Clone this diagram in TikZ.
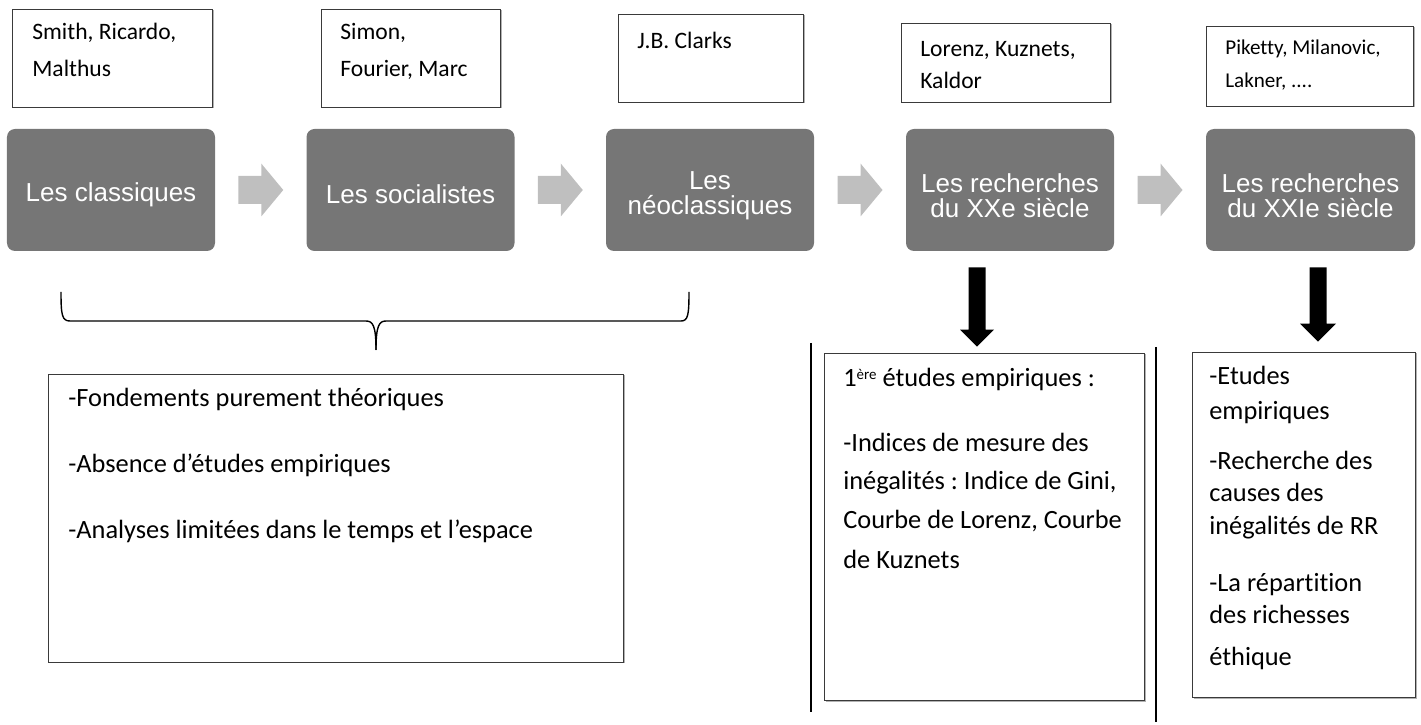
\documentclass[tikz,border=0pt]{standalone}
\usepackage{fontspec}
\setmainfont{Carlito}[Ligatures=NoCommon]
\newfontfamily\arialf{Liberation Sans}
\usetikzlibrary{calc,shadows}
\definecolor{boxgray}{HTML}{767676}
\definecolor{arrgray}{HTML}{BFBFBF}
\definecolor{edgec}{HTML}{3A3A3A}
\frenchspacing
\tikzset{
  stage/.style={rounded corners=0.16cm, fill=boxgray,
    minimum width=4.16cm, minimum height=2.44cm, inner sep=0pt},
  stagetext/.style={text=white, font=\arialf\fontsize{14.8}{14.4}\selectfont,
    align=center, inner sep=0pt},
  framebox/.style={draw=edgec, line width=0.55pt, fill=white,
    drop shadow={shadow xshift=0.03cm, shadow yshift=-0.03cm, fill=black!30, opacity=1},
    inner sep=0pt},
  atext/.style={anchor=base west, inner sep=0pt, font=\fontsize{13.4}{16}\selectfont},
  asmall/.style={anchor=base west, inner sep=0pt, font=\fontsize{12}{14}\selectfont},
  btext/.style={anchor=base west, inner sep=0pt, font=\fontsize{15}{18}\selectfont},
  pics/barrow/.style={code={\fill[arrgray] (-0.45,0.28) -- (0.01,0.28) -- (0.01,0.53) -- (0.45,0) -- (0.01,-0.53) -- (0.01,-0.28) -- (-0.45,-0.28) -- cycle;}},
  rule/.style={line width=0.8pt, draw=black}
}
\begin{document}
\begin{tikzpicture}
\useasboundingbox (0,0) rectangle (28.42,-14.5);

% author boxes
\node[framebox, minimum width=4.00cm, minimum height=1.96cm] (a1) at (2.24,-1.16) {};
\node[framebox, minimum width=3.58cm, minimum height=1.96cm] (a2) at (8.21,-1.16) {};
\node[framebox, minimum width=3.70cm, minimum height=1.76cm] (a3) at (14.21,-1.16) {};
\node[framebox, minimum width=4.18cm, minimum height=1.58cm] (a4) at (20.11,-1.25) {};
\node[framebox, minimum width=4.14cm, minimum height=1.60cm] (a5) at (26.19,-1.32) {};

\node[atext] (a1t1) at (0.64,-0.80) {Smith, Ricardo,};
\node[atext] (a1t2) at (0.64,-1.54) {Malthus};
\node[atext] (a2t1) at (6.80,-0.80) {Simon,};
\node[atext] (a2t2) at (6.80,-1.54) {Fourier, Marc};
\node[atext] (a3t1) at (12.74,-0.98) {J.B. Clarks};
\node[atext] (a4t1) at (18.40,-1.14) {Lorenz, Kuznets,};
\node[atext] (a4t2) at (18.40,-1.78) {Kaldor};
\node[asmall] (a5t1) at (24.50,-1.10) {Piketty, Milanovic,};
\node[asmall] (a5t2) at (24.50,-1.76) {Lakner, ....};

% stage boxes
\node[stage] (g1) at (2.22,-3.80) {};
\node[stage] (g2) at (8.21,-3.80) {};
\node[stage] (g3) at (14.20,-3.80) {};
\node[stage] (g4) at (20.20,-3.80) {};
\node[stage, minimum width=4.18cm] (g5) at (26.21,-3.80) {};
\node[stagetext] (g1t) at ($(g1.center)+(0,-0.09)$) {Les classiques};
\node[stagetext] (g2t) at ($(g2.center)+(0,-0.09)$) {Les socialistes};
\node[stagetext] (g3t) at ($(g3.center)+(0,-0.12)$) {Les\\n\'eoclassiques};
\node[stagetext] (g4t) at ($(g4.center)+(0,-0.12)$) {Les recherches\\du XXe si\`ecle};
\node[stagetext] (g5t) at ($(g5.center)+(0,-0.12)$) {Les recherches\\du XXIe si\`ecle};

% block arrows between stages
\pic at ($(g1.east)!0.5!(g2.west)$) {barrow};
\pic at ($(g2.east)!0.5!(g3.west)$) {barrow};
\pic at ($(g3.east)!0.5!(g4.west)$) {barrow};
\pic at ($(g4.east)!0.5!(g5.west)$) {barrow};

% bottom boxes
\node[framebox, minimum width=11.50cm, minimum height=5.76cm] (b1) at (6.71,-10.36) {};
\node[framebox, minimum width=6.40cm, minimum height=6.94cm] (b2) at (19.68,-10.53) {};
\node[framebox, minimum width=4.46cm, minimum height=6.90cm] (b3) at (26.07,-10.49) {};

\node[btext] (b1t1) at (1.36,-8.14) {-Fondements purement th\'eoriques};
\node[btext] (b1t2) at (1.36,-9.46) {-Absence d’\'etudes empiriques};
\node[btext] (b1t3) at (1.36,-10.78) {-Analyses limit\'ees dans le temps et l’espace};

\node[btext] (b2t1) at (16.86,-7.74) {1\raisebox{0.62ex}{\fontsize{8.5}{9}\selectfont \`ere} \'etudes empiriques :};
\node[btext] (b2t2) at (16.86,-9.04) {-Indices de mesure des};
\node[btext] (b2t3) at (16.86,-9.80) {in\'egalit\'es : Indice de Gini,};
\node[btext] (b2t4) at (16.86,-10.58) {Courbe de Lorenz, Courbe};
\node[btext] (b2t5) at (16.86,-11.38) {de Kuznets};

\node[btext] (b3t1) at (24.18,-7.70) {-Etudes};
\node[btext] (b3t2) at (24.18,-8.40) {empiriques};
\node[btext] (b3t3) at (24.18,-9.40) {-Recherche des};
\node[btext] (b3t4) at (24.18,-10.04) {causes des};
\node[btext] (b3t5) at (24.18,-10.70) {in\'egalit\'es de RR};
\node[btext] (b3t6) at (24.18,-11.84) {-La r\'epartition};
\node[btext] (b3t7) at (24.18,-12.48) {des richesses};
\node[btext] (b3t8) at (24.18,-13.30) {\'ethique};

% brace under the first three stages
\coordinate (brl) at (1.22,-5.84);
\coordinate (brr) at (13.78,-5.84);
\coordinate (brm) at (7.52,-7.00);
\draw[rule] (brl) .. controls (1.22,-6.30) and (1.24,-6.42) .. (1.40,-6.42)
  -- (7.32,-6.42) .. controls (7.46,-6.42) and (7.52,-6.52) .. (brm);
\draw[rule] (brm) .. controls (7.52,-6.52) and (7.58,-6.42) .. (7.72,-6.42)
  -- (13.62,-6.42) .. controls (13.76,-6.42) and (13.78,-6.30) .. (brr);

% vertical rules
\coordinate (v1a) at (16.22,-6.86);
\coordinate (v1b) at (16.22,-14.24);
\coordinate (v2a) at (23.12,-6.94);
\coordinate (v2b) at (23.12,-14.44);
\draw[rule] (v1a) -- (v1b);
\draw[rule] (v2a) -- (v2b);

% black down arrows
\coordinate (s1) at ($(g4.south)+(-0.66,-0.32)$);
\coordinate (t1) at ($(s1 |- b2.north)+(0,0.12)$);
\fill[black] ($(s1)+(-0.17,0)$) -- ($(s1)+(0.17,0)$) -- ($(t1)+(0.17,0.34)$) -- ($(t1)+(0.34,0.34)$)
  -- (t1) -- ($(t1)+(-0.34,0.34)$) -- ($(t1)+(-0.17,0.34)$) -- cycle;
\coordinate (s2) at ($(g5.south)+(0.15,-0.32)$);
\coordinate (t2) at ($(s2 |- b3.north)+(0,0.20)$);
\fill[black] ($(s2)+(-0.17,0)$) -- ($(s2)+(0.17,0)$) -- ($(t2)+(0.17,0.36)$) -- ($(t2)+(0.36,0.36)$)
  -- (t2) -- ($(t2)+(-0.36,0.36)$) -- ($(t2)+(-0.17,0.36)$) -- cycle;
\end{tikzpicture}
\end{document}
